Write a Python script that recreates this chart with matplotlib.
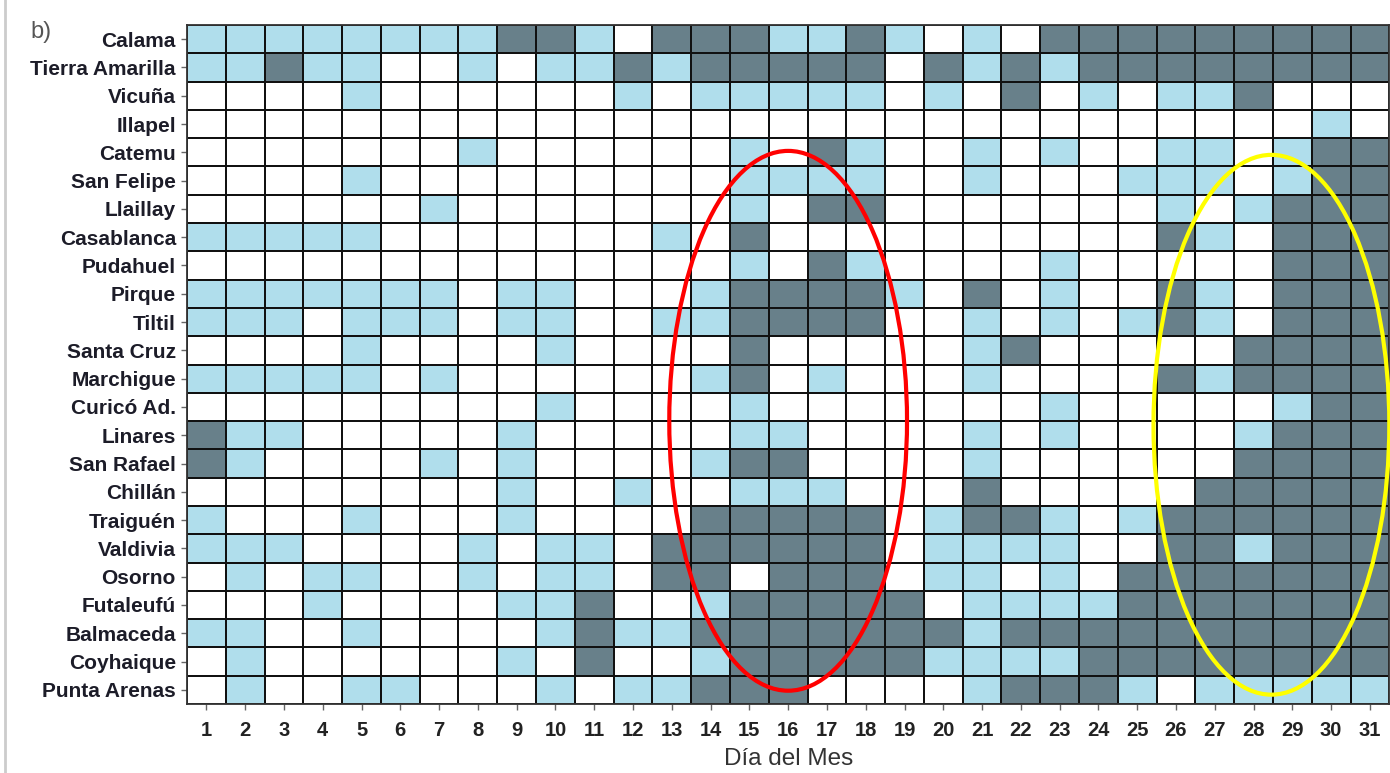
import matplotlib
matplotlib.use("Agg")
import matplotlib.pyplot as plt
import numpy as np
from matplotlib.colors import ListedColormap, BoundaryNorm
from matplotlib.patches import Ellipse
from matplotlib.lines import Line2D

stations = ["Calama", "Tierra Amarilla", "Vicuña", "Illapel", "Catemu", "San Felipe",
            "Llaillay", "Casablanca", "Pudahuel", "Pirque", "Tiltil", "Santa Cruz",
            "Marchigue", "Curicó Ad.", "Linares", "San Rafael", "Chillán", "Traiguén",
            "Valdivia", "Osorno", "Futaleufú", "Balmaceda", "Coyhaique", "Punta Arenas"]
days = list(range(1, 32))

# 0 = white, 1 = light blue, 2 = dark
calama          = [1,1,1,1,1,1,1,1,2,2,1,0,2,2,2,1,1,2,1,0,1,0,2,2,2,2,2,2,2,2,2]
tierra_amarilla = [1,1,2,1,1,0,0,1,0,1,1,2,1,2,2,2,2,2,0,2,1,2,1,2,2,2,2,2,2,2,2]
vicuna          = [0,0,0,0,1,0,0,0,0,0,0,1,0,1,1,1,1,1,0,1,0,2,0,1,0,1,1,2,0,0,0]
illapel         = [0,0,0,0,0,0,0,0,0,0,0,0,0,0,0,0,0,0,0,0,0,0,0,0,0,0,0,0,0,1,0]
catemu          = [0,0,0,0,0,0,0,1,0,0,0,0,0,0,1,0,2,1,0,0,1,0,1,0,0,1,1,0,1,2,2]
san_felipe      = [0,0,0,0,1,0,0,0,0,0,0,0,0,0,1,1,1,1,0,0,1,0,0,0,1,1,1,0,1,2,2]
llaillay        = [0,0,0,0,0,0,1,0,0,0,0,0,0,0,1,0,2,2,0,0,0,0,0,0,0,1,0,1,2,2,2]
casablanca      = [1,1,1,1,1,0,0,0,0,0,0,0,1,0,2,0,0,0,0,0,0,0,0,0,0,2,1,0,2,2,2]
pudahuel        = [0,0,0,0,0,0,0,0,0,0,0,0,0,0,1,0,2,1,0,0,0,0,1,0,0,0,0,0,2,2,2]
pirque          = [1,1,1,1,1,1,1,0,1,1,0,0,0,1,2,2,2,2,1,0,2,0,1,0,0,2,1,0,2,2,2]
tiltil          = [1,1,1,0,1,1,1,0,1,1,0,0,1,1,2,2,2,2,0,0,1,0,1,0,1,2,1,0,2,2,2]
santa_cruz      = [0,0,0,0,1,0,0,0,0,1,0,0,0,0,2,0,0,0,0,0,1,2,0,0,0,0,0,2,2,2,2]
marchigue       = [1,1,1,1,1,0,1,0,0,0,0,0,0,1,2,0,1,0,0,0,1,0,0,0,0,2,1,2,2,2,2]
curico          = [0,0,0,0,0,0,0,0,0,1,0,0,0,0,1,0,0,0,0,0,0,0,1,0,0,0,0,0,1,2,2]
linares         = [2,1,1,0,0,0,0,0,1,0,0,0,0,0,1,1,0,0,0,0,1,0,1,0,0,0,0,1,2,2,2]
san_rafael      = [2,1,0,0,0,0,1,0,1,0,0,0,0,1,2,2,0,0,0,0,1,0,0,0,0,0,0,2,2,2,2]
chillan         = [0,0,0,0,0,0,0,0,1,0,0,1,0,0,1,1,1,0,0,0,2,0,0,0,0,0,2,2,2,2,2]
traiguen        = [1,0,0,0,1,0,0,0,1,0,0,0,0,2,2,2,2,2,0,1,2,2,1,0,1,2,2,2,2,2,2]
valdivia        = [1,1,1,0,0,0,0,1,0,1,1,0,2,2,2,2,2,2,0,1,1,1,1,0,0,2,2,1,2,2,2]
osorno          = [0,1,0,1,1,0,0,1,0,1,1,0,2,2,0,2,2,2,0,1,1,0,1,0,2,2,2,2,2,2,2]
futaleufu       = [0,0,0,1,0,0,0,0,1,1,2,0,0,1,2,2,2,2,2,0,1,1,1,1,2,2,2,2,2,2,2]
balmaceda       = [1,1,0,0,1,0,0,0,0,1,2,1,1,2,2,2,2,2,2,2,1,2,2,2,2,2,2,2,2,2,2]
coyhaique       = [0,1,0,0,0,0,0,0,1,0,2,0,0,1,2,2,2,2,2,1,1,1,1,2,2,2,2,2,2,2,2]
punta_arenas    = [0,1,0,0,1,1,0,0,0,1,0,1,1,2,2,2,0,0,0,0,1,2,2,2,1,0,1,1,1,1,1]

levels = np.array([calama, tierra_amarilla, vicuna, illapel, catemu, san_felipe,
                   llaillay, casablanca, pudahuel, pirque, tiltil, santa_cruz,
                   marchigue, curico, linares, san_rafael, chillan, traiguen,
                   valdivia, osorno, futaleufu, balmaceda, coyhaique, punta_arenas])

W, H = 1390, 773
fig = plt.figure(figsize=(W / 100, H / 100), dpi=100)
ax = fig.add_axes([187 / W, 1 - 704 / H, (1389.3 - 187) / W, (704 - 25) / H])

cmap = ListedColormap(["#ffffff", "#b0deec", "#68808a"])
norm = BoundaryNorm([-0.5, 0.5, 1.5, 2.5], cmap.N)
xe = np.arange(len(days) + 1) + 0.5
ye = np.arange(len(stations) + 1) - 0.5
ax.pcolormesh(xe, ye, levels, cmap=cmap, norm=norm, edgecolors="#111111", linewidth=1.3)
ax.set_xlim(0.5, len(days) + 0.5)
ax.set_ylim(len(stations) - 0.5, -0.5)

ax.set_xticks(days)
ax.set_xticklabels([str(d) for d in days], fontsize=14.5, fontweight="bold",
                   family=["Liberation Sans Narrow", "Liberation Sans"], color="#222222")
ax.set_yticks(range(len(stations)))
ax.set_yticklabels(stations, fontsize=15, fontweight="bold",
                   family=["Liberation Sans", "DejaVu Sans"], color="#1c1c28")
ax.tick_params(axis="both", length=4, width=1, color="#666666")
ax.tick_params(axis="y", pad=4)
ax.tick_params(axis="x", pad=8)
for s in ax.spines.values():
    s.set_color("#333333")
    s.set_linewidth(1.3)

ax.set_xlabel("Día del Mes", fontsize=17.5, family=["Liberation Sans Narrow", "Liberation Sans"],
              color="#333333", labelpad=6)

# highlight ellipses
ax.add_patch(Ellipse((16.0, 13.49), 6.13, 19.08, fill=False, edgecolor="#ff0000",
                     linewidth=3, clip_on=False, zorder=5))
ax.add_patch(Ellipse((28.46, 13.63), 6.08, 19.08, fill=False, edgecolor="#ffff00",
                     linewidth=3, clip_on=False, zorder=5))

fig.text(30 / W, 1 - 32 / H, "b)", fontsize=17, color="#555555",
         family=["Liberation Sans", "DejaVu Sans"], va="center", ha="left")
fig.add_artist(Line2D([5 / W, 5 / W], [0, 1], color="#cccccc", linewidth=2,
                      transform=fig.transFigure))

fig.savefig("out.png", dpi=100)
